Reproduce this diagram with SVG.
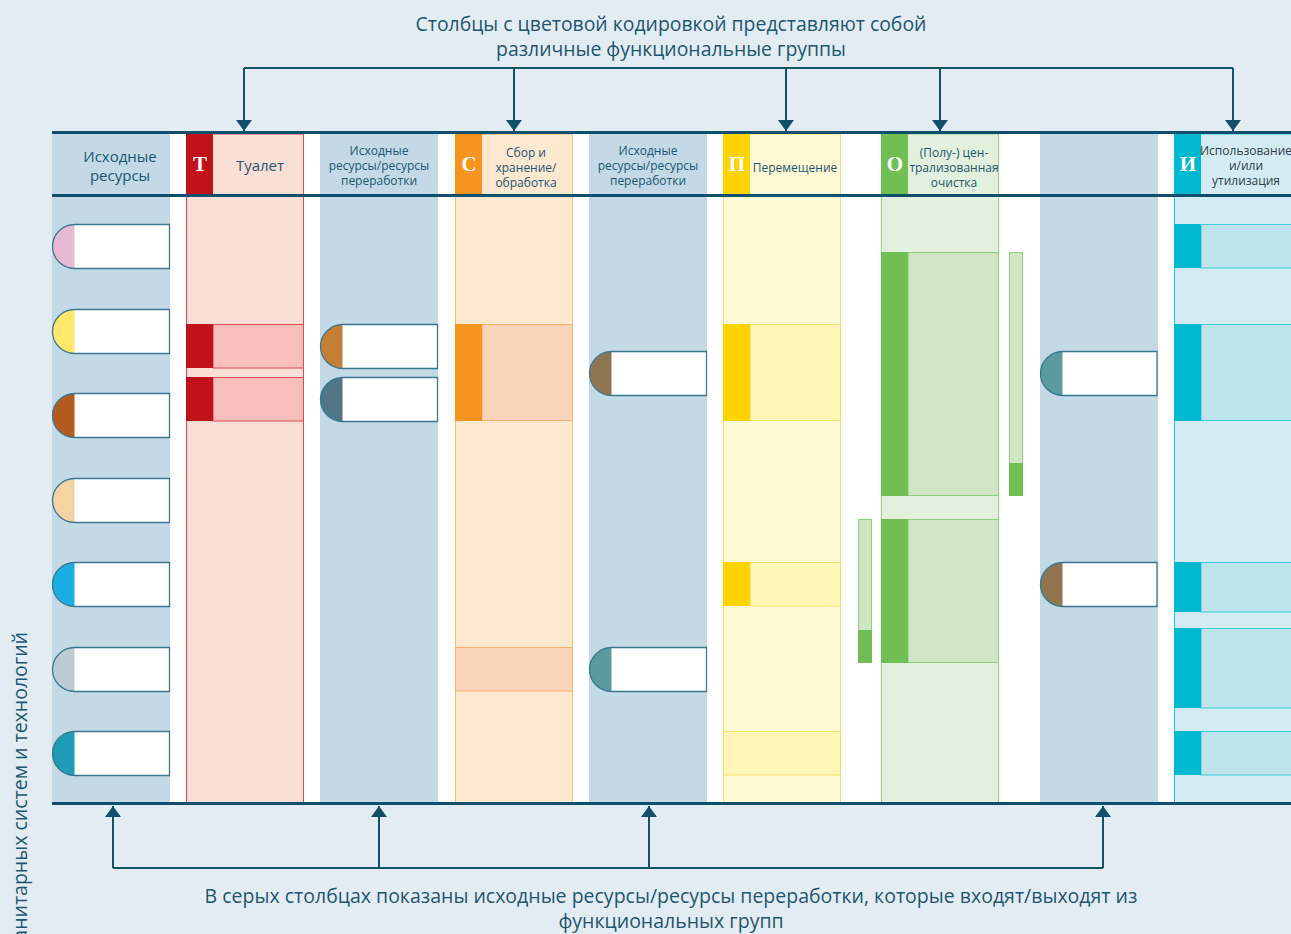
<svg xmlns="http://www.w3.org/2000/svg" width="1291" height="934" viewBox="0 0 1291 934">
<defs>
<style>
.t{font-family:"Open Sans","Noto Sans","DejaVu Sans",sans-serif;fill:#1d5670}
.ttl{font-size:19.4px;text-anchor:middle}
.btm{font-size:19.5px;text-anchor:middle}
.hd{font-size:12px;text-anchor:middle}
.hb{font-size:15px;text-anchor:middle}
.let{font-family:"Liberation Serif","DejaVu Serif",serif;font-weight:bold;font-size:21px;fill:#fff;text-anchor:middle}
.grey{fill:#c3d9e5}
.pw{fill:#fff}
.po{fill:none;stroke:#3a7891;stroke-width:1.3}
.rule{stroke:#0d4f6c;stroke-width:2.8;fill:none}
.con{stroke:#124f68;stroke-width:2;fill:none}
.tcol{fill:#fbded5;stroke:#dd4b53;stroke-width:1}
.tblk{fill:#f8bfbb;stroke:#dd4b53;stroke-width:1}
.tbox{fill:#c1121b}
.ccol{fill:#fee8d0;stroke:#fbbc73;stroke-width:1}
.cblk{fill:#fad3bb;stroke:#fbb06a;stroke-width:1}
.cbox{fill:#f7941d}
.pcol{fill:#fff9d5;stroke:#ffe066;stroke-width:1}
.pblk{fill:#fff6b8;stroke:#ffe066;stroke-width:1}
.pbox{fill:#fdd300}
.ocol{fill:#e3f0dd;stroke:#9ad68a;stroke-width:1}
.oblk{fill:#cfe5c3;stroke:#8ccf7c;stroke-width:1}
.obox{fill:#70bf54}
.icol{fill:#d3ecf3;stroke:#2cc8de;stroke-width:1}
.iblk{fill:#bde3ec;stroke:#3ccbe0;stroke-width:1}
.ibox{fill:#00b8d0}
</style>
<marker id="ah" markerUnits="userSpaceOnUse" markerWidth="11" markerHeight="16" refX="11" refY="8" orient="auto" viewBox="0 0 11 16">
<path d="M0,0 L11,8 L0,16 Z" fill="#124f68"/>
</marker>
</defs>
<rect x="0" y="0" width="1291" height="934" fill="#e3ecf3"/>
<rect x="52" y="131" width="1239" height="674" fill="#fff"/>

<text class="t ttl" x="671" y="31">Столбцы с цветовой кодировкой представляют собой</text>
<text class="t ttl" x="671" y="56">различные функциональные группы</text>

<g id="col-input">
<rect class="grey" x="52" y="134" width="118" height="669"/>
<text class="t hb" x="120" y="162">Исходные</text>
<text class="t hb" x="120" y="181">ресурсы</text>
</g>

<g id="col-T">
<rect class="tcol" x="186.5" y="134" width="117" height="669"/>
<rect class="tbox" x="186" y="134" width="27" height="60"/>
<text class="let" x="200" y="171">Т</text>
<text class="t hb" x="260" y="171">Туалет</text>
<rect class="tblk" x="213" y="324.5" width="90.5" height="43.5"/>
<rect class="tbox" x="186" y="324" width="27" height="44"/>
<rect class="tblk" x="213" y="377.5" width="90.5" height="43.5"/>
<rect class="tbox" x="186" y="377" width="27" height="44"/>
</g>

<g id="col-io1">
<rect class="grey" x="320" y="134" width="118" height="669"/>
<text class="t hd" x="379" y="155">Исходные</text>
<text class="t hd" x="379" y="170">ресурсы/ресурсы</text>
<text class="t hd" x="379" y="185">переработки</text>
</g>

<g id="col-C">
<rect class="ccol" x="455.5" y="134" width="117" height="669"/>
<rect class="cbox" x="455" y="134" width="27" height="60"/>
<text class="let" x="469" y="171">С</text>
<text class="t hd" x="526" y="157">Сбор и</text>
<text class="t hd" x="526" y="172">хранение/</text>
<text class="t hd" x="526" y="187">обработка</text>
<rect class="cblk" x="482" y="324.5" width="90.5" height="96"/>
<rect class="cbox" x="455" y="324" width="27" height="97"/>
<rect class="cblk" x="455.5" y="647.5" width="117" height="43.5"/>
</g>

<g id="col-io2">
<rect class="grey" x="589" y="134" width="118" height="669"/>
<text class="t hd" x="648" y="155">Исходные</text>
<text class="t hd" x="648" y="170">ресурсы/ресурсы</text>
<text class="t hd" x="648" y="185">переработки</text>
</g>

<g id="col-P">
<rect class="pcol" x="723.5" y="134" width="117" height="669"/>
<rect class="pbox" x="723" y="134" width="27" height="60"/>
<text class="let" x="737" y="171">П</text>
<text class="t hd" x="795" y="172">Перемещение</text>
<rect class="pblk" x="750" y="324.5" width="90.5" height="96"/>
<rect class="pbox" x="723" y="324" width="27" height="97"/>
<rect class="pblk" x="750" y="562.5" width="90.5" height="43.5"/>
<rect class="pbox" x="723" y="562" width="27" height="44"/>
<rect class="pblk" x="723.5" y="731.5" width="117" height="43.5"/>
</g>

<g id="col-O">
<rect class="ocol" x="881.5" y="134" width="117" height="669"/>
<rect class="obox" x="881" y="134" width="27" height="60"/>
<text class="let" x="895" y="171">О</text>
<text class="t hd" x="954" y="157">(Полу-) цен-</text>
<text class="t hd" x="954" y="172">трализованная</text>
<text class="t hd" x="954" y="187">очистка</text>
<rect class="oblk" x="908" y="252.5" width="90.5" height="243"/>
<rect class="obox" x="881" y="252" width="27" height="244"/>
<rect class="oblk" x="908" y="519.5" width="90.5" height="143"/>
<rect class="obox" x="881" y="519" width="27" height="144"/>
<rect class="oblk" x="1009.5" y="252.5" width="13" height="243"/>
<rect class="obox" x="1009" y="463" width="14" height="33"/>
<rect class="oblk" x="858.5" y="519.5" width="13" height="143"/>
<rect class="obox" x="858" y="630" width="14" height="33"/>
</g>

<g id="col-io3">
<rect class="grey" x="1040" y="134" width="118" height="669"/>
</g>

<g id="col-I">
<rect class="icol" x="1174.5" y="134" width="120" height="669"/>
<rect class="ibox" x="1174" y="134" width="27" height="60"/>
<text class="let" x="1188" y="171">И</text>
<text class="t hd" x="1246" y="155" style="fill:#2b3a42">Использование</text>
<text class="t hd" x="1246" y="170" style="fill:#2b3a42">и/или</text>
<text class="t hd" x="1246" y="185" style="fill:#2b3a42">утилизация</text>
<rect class="iblk" x="1201" y="224.5" width="95" height="43.5"/>
<rect class="ibox" x="1174" y="224" width="27" height="44"/>
<rect class="iblk" x="1201" y="324.5" width="95" height="96"/>
<rect class="ibox" x="1174" y="324" width="27" height="97"/>
<rect class="iblk" x="1201" y="562.5" width="95" height="49.5"/>
<rect class="ibox" x="1174" y="562" width="27" height="50"/>
<rect class="iblk" x="1201" y="628.5" width="95" height="79.5"/>
<rect class="ibox" x="1174" y="628" width="27" height="80"/>
<rect class="iblk" x="1201" y="731.5" width="95" height="43.5"/>
<rect class="ibox" x="1174" y="731" width="27" height="44"/>
</g>

<g id="pills-input">
<g id="pill-1"><path class="pw" d="M74.5,224.5 H169.5 V268.5 H74.5 A22,22 0 0 1 74.5,224.5 Z"/><path d="M74.5,224.5 V268.5 A22,22 0 0 1 74.5,224.5 Z" fill="#e8b9d3"/><path class="po" d="M74.5,224.5 H169.5 V268.5 H74.5 A22,22 0 0 1 74.5,224.5 Z"/></g>
<g id="pill-2"><path class="pw" d="M74.5,309.5 H169.5 V353.5 H74.5 A22,22 0 0 1 74.5,309.5 Z"/><path d="M74.5,309.5 V353.5 A22,22 0 0 1 74.5,309.5 Z" fill="#ffe86b"/><path class="po" d="M74.5,309.5 H169.5 V353.5 H74.5 A22,22 0 0 1 74.5,309.5 Z"/></g>
<g id="pill-3"><path class="pw" d="M74.5,393.5 H169.5 V437.5 H74.5 A22,22 0 0 1 74.5,393.5 Z"/><path d="M74.5,393.5 V437.5 A22,22 0 0 1 74.5,393.5 Z" fill="#b25a20"/><path class="po" d="M74.5,393.5 H169.5 V437.5 H74.5 A22,22 0 0 1 74.5,393.5 Z"/></g>
<g id="pill-4"><path class="pw" d="M74.5,478.5 H169.5 V522.5 H74.5 A22,22 0 0 1 74.5,478.5 Z"/><path d="M74.5,478.5 V522.5 A22,22 0 0 1 74.5,478.5 Z" fill="#f5d3a5"/><path class="po" d="M74.5,478.5 H169.5 V522.5 H74.5 A22,22 0 0 1 74.5,478.5 Z"/></g>
<g id="pill-5"><path class="pw" d="M74.5,562.5 H169.5 V606.5 H74.5 A22,22 0 0 1 74.5,562.5 Z"/><path d="M74.5,562.5 V606.5 A22,22 0 0 1 74.5,562.5 Z" fill="#1aaee5"/><path class="po" d="M74.5,562.5 H169.5 V606.5 H74.5 A22,22 0 0 1 74.5,562.5 Z"/></g>
<g id="pill-6"><path class="pw" d="M74.5,647.5 H169.5 V691.5 H74.5 A22,22 0 0 1 74.5,647.5 Z"/><path d="M74.5,647.5 V691.5 A22,22 0 0 1 74.5,647.5 Z" fill="#bccbd4"/><path class="po" d="M74.5,647.5 H169.5 V691.5 H74.5 A22,22 0 0 1 74.5,647.5 Z"/></g>
<g id="pill-7"><path class="pw" d="M74.5,731.5 H169.5 V775.5 H74.5 A22,22 0 0 1 74.5,731.5 Z"/><path d="M74.5,731.5 V775.5 A22,22 0 0 1 74.5,731.5 Z" fill="#1f9bb5"/><path class="po" d="M74.5,731.5 H169.5 V775.5 H74.5 A22,22 0 0 1 74.5,731.5 Z"/></g>
</g>

<g id="pills-io1">
<g id="pill-8"><path class="pw" d="M342.5,324.5 H437.5 V368.5 H342.5 A22,22 0 0 1 342.5,324.5 Z"/><path d="M342.5,324.5 V368.5 A22,22 0 0 1 342.5,324.5 Z" fill="#c47e35"/><path class="po" d="M342.5,324.5 H437.5 V368.5 H342.5 A22,22 0 0 1 342.5,324.5 Z"/></g>
<g id="pill-9"><path class="pw" d="M342.5,377.5 H437.5 V421.5 H342.5 A22,22 0 0 1 342.5,377.5 Z"/><path d="M342.5,377.5 V421.5 A22,22 0 0 1 342.5,377.5 Z" fill="#527585"/><path class="po" d="M342.5,377.5 H437.5 V421.5 H342.5 A22,22 0 0 1 342.5,377.5 Z"/></g>
</g>

<g id="pills-io2">
<g id="pill-10"><path class="pw" d="M611.5,351.5 H706.5 V395.5 H611.5 A22,22 0 0 1 611.5,351.5 Z"/><path d="M611.5,351.5 V395.5 A22,22 0 0 1 611.5,351.5 Z" fill="#907650"/><path class="po" d="M611.5,351.5 H706.5 V395.5 H611.5 A22,22 0 0 1 611.5,351.5 Z"/></g>
<g id="pill-11"><path class="pw" d="M611.5,647.5 H706.5 V691.5 H611.5 A22,22 0 0 1 611.5,647.5 Z"/><path d="M611.5,647.5 V691.5 A22,22 0 0 1 611.5,647.5 Z" fill="#5b9a9f"/><path class="po" d="M611.5,647.5 H706.5 V691.5 H611.5 A22,22 0 0 1 611.5,647.5 Z"/></g>
</g>

<g id="pills-io3">
<g id="pill-12"><path class="pw" d="M1062.5,351.5 H1157 V395.5 H1062.5 A22,22 0 0 1 1062.5,351.5 Z"/><path d="M1062.5,351.5 V395.5 A22,22 0 0 1 1062.5,351.5 Z" fill="#5b9a9f"/><path class="po" d="M1062.5,351.5 H1157 V395.5 H1062.5 A22,22 0 0 1 1062.5,351.5 Z"/></g>
<g id="pill-13"><path class="pw" d="M1062.5,562.5 H1157 V606.5 H1062.5 A22,22 0 0 1 1062.5,562.5 Z"/><path d="M1062.5,562.5 V606.5 A22,22 0 0 1 1062.5,562.5 Z" fill="#907650"/><path class="po" d="M1062.5,562.5 H1157 V606.5 H1062.5 A22,22 0 0 1 1062.5,562.5 Z"/></g>
</g>

<g id="rules">
<line class="rule" x1="52" y1="132.5" x2="1291" y2="132.5"/>
<line class="rule" x1="52" y1="195.5" x2="1291" y2="195.5"/>
<line class="rule" x1="52" y1="803.5" x2="1291" y2="803.5"/>
</g>

<g id="connectors">
<path class="con" d="M244,68 H1233"/>
<path class="con" d="M244,68 V131" marker-end="url(#ah)"/>
<path class="con" d="M514,68 V131" marker-end="url(#ah)"/>
<path class="con" d="M786,68 V131" marker-end="url(#ah)"/>
<path class="con" d="M940,68 V131" marker-end="url(#ah)"/>
<path class="con" d="M1233,68 V131" marker-end="url(#ah)"/>
<path class="con" d="M113,868 H1103"/>
<path class="con" d="M113,868 V806" marker-end="url(#ah)"/>
<path class="con" d="M379,868 V806" marker-end="url(#ah)"/>
<path class="con" d="M649,868 V806" marker-end="url(#ah)"/>
<path class="con" d="M1103,868 V806" marker-end="url(#ah)"/>
</g>

<text class="t btm" x="671" y="903">В серых столбцах показаны исходные ресурсы/ресурсы переработки, которые входят/выходят из</text>
<text class="t btm" x="671" y="928">функциональных групп</text>

<text class="t" style="font-size:19.5px;text-anchor:end" transform="translate(27,632) rotate(-90)">санитарных систем и технологий</text>
</svg>
